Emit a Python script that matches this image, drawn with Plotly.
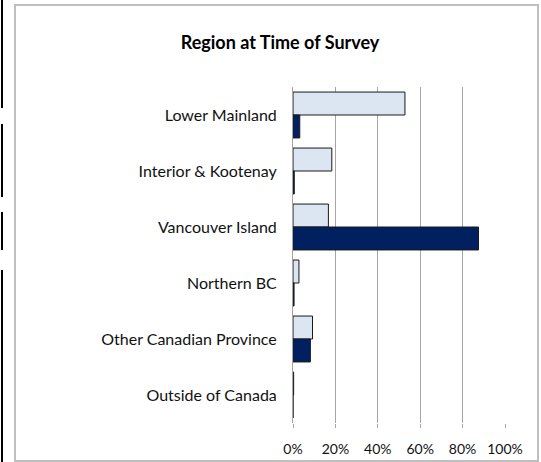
import plotly.graph_objects as go

regions = [
    "Lower Mainland",
    "Interior & Kootenay",
    "Vancouver Island",
    "Northern BC",
    "Other Canadian Province",
    "Outside of Canada",
]
series_a = [52.8, 18.3, 16.7, 2.8, 9.2, 0.3]
series_b = [3.2, 0.6, 87.5, 0.5, 8.2, 0.0]
x_ticks = [0, 20, 40, 60, 80, 100]
x_tick_labels = ["0%", "20%", "40%", "60%", "80%", "100%"]

W, H = 541, 462
L, R, T, B = 293, 36, 87, 39
pw, ph = W - L - R, H - T - B


def px_x(x):
    return (x - L) / pw


def px_y(y):
    return (H - B - y) / ph


fig = go.Figure()
fig.add_trace(go.Bar(
    y=regions, x=series_a, orientation="h", name="A",
    marker=dict(color="#DCE6F2", line=dict(color="#1a1a1a", width=1)),
))
fig.add_trace(go.Bar(
    y=regions, x=series_b, orientation="h", name="B",
    marker=dict(color="#002060", line=dict(color="#1a1a1a", width=1)),
))

# chart frame
fig.add_shape(type="rect", xref="paper", yref="paper",
              x0=px_x(15), x1=px_x(538), y0=px_y(461), y1=px_y(5),
              line=dict(color="#BFBFBF", width=2), layer="below")

# bits of neighbouring boxes on the left edge
for y0, y1 in [(0, 108), (124, 197), (212, 250), (270, 462)]:
    fig.add_shape(type="line", xref="paper", yref="paper",
                  x0=px_x(2), x1=px_x(2), y0=px_y(y0), y1=px_y(y1),
                  line=dict(color="black", width=2))

fig.update_layout(
    width=W, height=H,
    margin=dict(l=L, r=R, t=T, b=B, autoexpand=False),
    paper_bgcolor="white", plot_bgcolor="white",
    barmode="group", bargap=0.18, bargroupgap=0,
    showlegend=False,
    font=dict(family="Lato, Open Sans, sans-serif", size=16, color="#111"),
    title=dict(text="<b>Region at Time of Survey</b>", x=280 / W, xanchor="center",
               y=1 - 43 / H, yanchor="middle", font=dict(size=18, color="black")),
)
fig.update_xaxes(
    range=[0, 100], tickvals=x_ticks, ticktext=x_tick_labels,
    showgrid=True, gridcolor="#A6A6A6", gridwidth=1,
    ticks="outside", ticklen=4, tickcolor="#A6A6A6",
    showline=False, zeroline=False, tickfont=dict(size=14),
    ticklabelstandoff=9, automargin=False,
)
fig.update_yaxes(
    autorange="reversed", showgrid=False, zeroline=False,
    showline=True, linecolor="#A6A6A6", linewidth=1,
    ticks="", ticklabelstandoff=12, tickfont=dict(size=16), automargin=False,
)

fig.write_html(
    "out.html",
    config={"displayModeBar": False},
    post_script="document.body.style.margin='0';",
)
